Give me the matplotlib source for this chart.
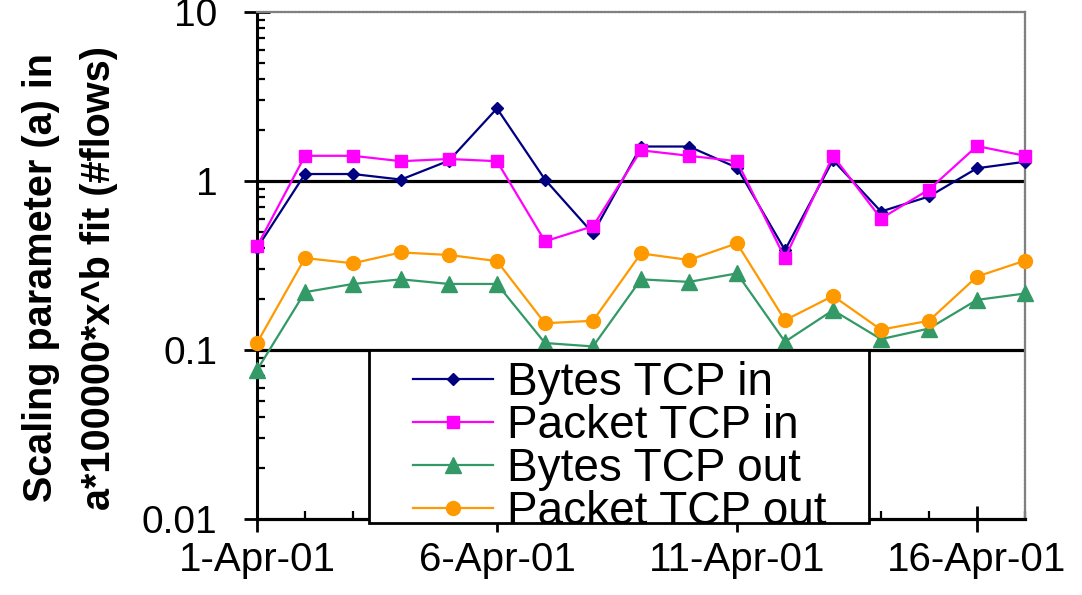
import matplotlib
matplotlib.use("Agg")
import matplotlib.pyplot as plt
from matplotlib.patches import Rectangle
from matplotlib.ticker import FixedLocator, LogLocator, NullFormatter

days = list(range(1, 18))
tick_days = [1, 6, 11, 16]
tick_labels = ["1-Apr-01", "6-Apr-01", "11-Apr-01", "16-Apr-01"]

bytes_in = [0.40, 1.10, 1.10, 1.02, 1.32, 2.69, 1.02, 0.49, 1.60, 1.60, 1.20, 0.39, 1.33, 0.66, 0.81, 1.19, 1.30]
packet_in = [0.41, 1.41, 1.41, 1.31, 1.35, 1.31, 0.44, 0.54, 1.52, 1.41, 1.31, 0.35, 1.41, 0.60, 0.89, 1.61, 1.41]
bytes_out = [0.076, 0.22, 0.246, 0.262, 0.246, 0.246, 0.11, 0.105, 0.262, 0.253, 0.284, 0.112, 0.172, 0.116, 0.134, 0.198, 0.216]
packet_out = [0.11, 0.35, 0.326, 0.378, 0.365, 0.336, 0.144, 0.149, 0.373, 0.341, 0.428, 0.15, 0.209, 0.132, 0.149, 0.272, 0.338]

series = [
    ("Bytes TCP in", bytes_in, "#000080", "D", 6),
    ("Packet TCP in", packet_in, "#ff00ff", "s", 8),
    ("Bytes TCP out", bytes_out, "#339966", "^", 11),
    ("Packet TCP out", packet_out, "#ff9900", "o", 10),
]

plt.rcParams["font.family"] = ["Liberation Sans", "DejaVu Sans"]

fig = plt.figure(figsize=(10.82, 5.95), dpi=100)
ax = fig.add_axes([0.2375, 0.1277, 0.7098, 0.8521])

ax.set_yscale("log")
ax.set_ylim(0.01, 10)
ax.set_xlim(1, 17)

# black reference lines at 1 and 0.1
for yv in (1, 0.1):
    ax.axhline(yv, color="black", lw=2.3, zorder=1)

for label, vals, color, marker, ms in series:
    ax.plot(days, vals, color=color, lw=1.6, marker=marker, markersize=ms,
            markeredgecolor=color, label=label, clip_on=False, zorder=3)

# spines
ax.spines["left"].set_linewidth(2.2)
ax.spines["bottom"].set_linewidth(2.3)
for side in ("top", "right"):
    ax.spines[side].set_color("#808080")
    ax.spines[side].set_linewidth(1.6)
    ax.spines[side].set_linestyle((0, (1, 0.6)))

# y ticks
ax.yaxis.set_major_locator(FixedLocator([0.01, 0.1, 1, 10]))
ax.set_yticklabels(["0.01", "0.1", "1", "10"])
ax.yaxis.set_minor_locator(LogLocator(base=10, subs=range(2, 10)))
ax.yaxis.set_minor_formatter(NullFormatter())
ax.tick_params(axis="y", which="major", direction="inout", length=19, width=2,
               labelsize=28, pad=19)
ax.tick_params(axis="y", which="minor", direction="in", length=6, width=1.6)

# x ticks
ax.xaxis.set_major_locator(FixedLocator(tick_days))
ax.set_xticklabels(tick_labels)
ax.xaxis.set_minor_locator(FixedLocator(days))
ax.tick_params(axis="x", which="major", direction="inout", length=19, width=2,
               labelsize=29, pad=6)
ax.tick_params(axis="x", which="minor", direction="in", length=6, width=1.6)

fig.text(0.0647, 0.533, "Scaling parameter (a) in\na*100000*x^b fit (#flows)",
         rotation=90, ha="center", va="center", multialignment="center",
         fontsize=28.5, fontweight="bold", linespacing=1.65)

# legend box (white, black border) sitting over the lower part of the plot
box = Rectangle((0.146, -0.008), 0.651, 0.341, transform=ax.transAxes,
                facecolor="white", edgecolor="black", lw=2, clip_on=False, zorder=4)
ax.add_patch(box)

leg = ax.legend(loc="upper left", bbox_to_anchor=(0.203, 0.312), borderaxespad=0,
                borderpad=0, fontsize=33, frameon=False, labelspacing=-0.02,
                handlelength=1.75, handletextpad=0.3)
leg.set_zorder(5)

fig.savefig("out.png", dpi=100)
